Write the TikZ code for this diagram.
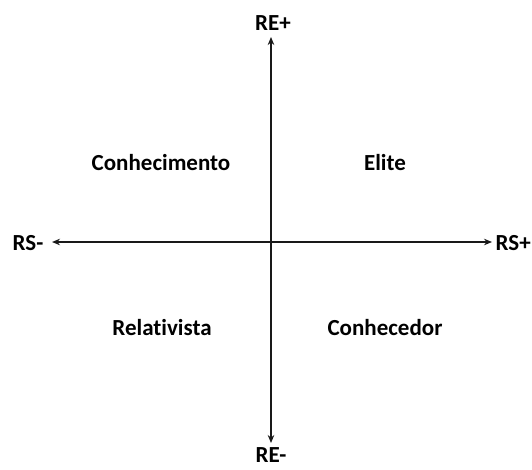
\documentclass[tikz,border=0pt]{standalone}
\usepackage{fontspec}
\setmainfont{Carlito}[Ligatures=NoCommon]
\usetikzlibrary{arrows.meta}
\begin{document}
\begin{tikzpicture}[x=1pt,y=-1pt,
  lbl/.style={font=\bfseries\fontsize{23}{27}\selectfont, inner sep=0pt, text=black},
  axis/.style={line width=1.7pt, -{Stealth[length=8pt,width=6.5pt]}, black!90}]
\useasboundingbox[fill=white] (0,0) rectangle (532,469);
\coordinate (o) at (271,242);
\coordinate (top) at (271,37);
\coordinate (bot) at (271,443);
\coordinate (lft) at (52,242);
\coordinate (rgt) at (492,242);
\draw[axis] (o) -- (top);
\draw[axis] (o) -- (bot);
\draw[axis] (o) -- (lft);
\draw[axis] (o) -- (rgt);
\node[lbl] (rep) at (273,23) {RE+};
\node[lbl] (rem) at (271,455) {RE-};
\node[lbl] (rsm) at (28,243) {RS-};
\node[lbl,anchor=west] (rsp) at (495.5,243) {RS+};
\node[lbl] (con) at (161,163) {Conhecimento};
\node[lbl] (eli) at (385,163) {Elite};
\node[lbl] (rel) at (162,328) {Relativista};
\node[lbl] (coh) at (385,328) {Conhecedor};
\end{tikzpicture}
\end{document}
